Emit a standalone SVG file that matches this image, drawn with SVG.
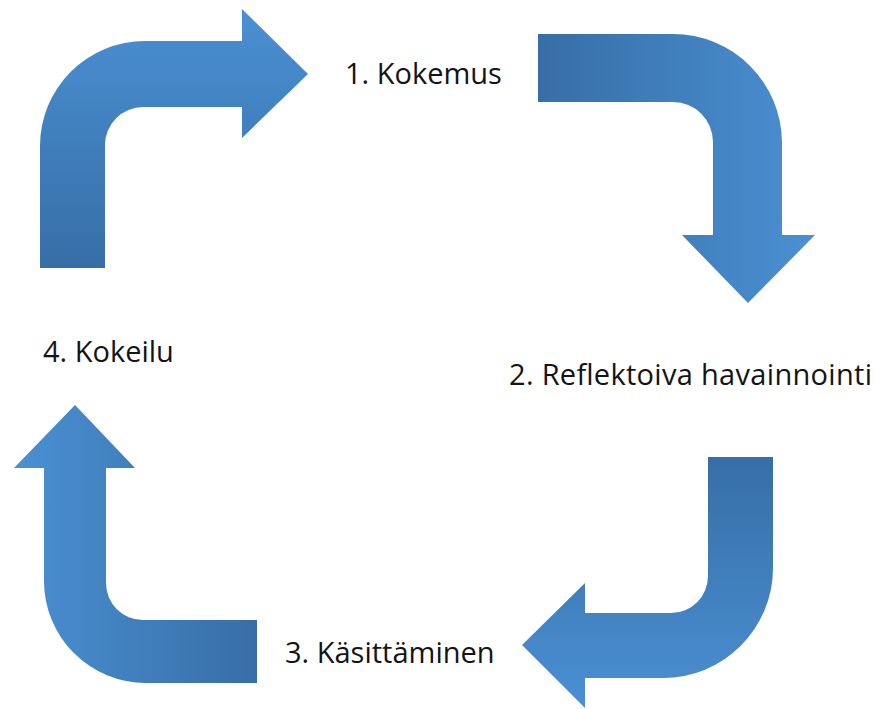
<svg xmlns="http://www.w3.org/2000/svg" width="879" height="709" viewBox="0 0 879 709">
<style>
.lbl{font-family:"Open Sans","Noto Sans","Liberation Sans",sans-serif;font-size:29px;fill:#141414}
</style>
<defs>
<linearGradient id="gDown" x1="0" y1="0" x2="0" y2="1"><stop offset="0" stop-color="#4a90d3"/><stop offset="1" stop-color="#376ea6"/></linearGradient>
<linearGradient id="gUp" x1="0" y1="0" x2="0" y2="1"><stop offset="0" stop-color="#376ea6"/><stop offset="1" stop-color="#4a90d3"/></linearGradient>
<linearGradient id="gRight" x1="0" y1="0" x2="1" y2="0"><stop offset="0" stop-color="#376ea6"/><stop offset="1" stop-color="#4a90d3"/></linearGradient>
<linearGradient id="gLeft" x1="0" y1="0" x2="1" y2="0"><stop offset="0" stop-color="#4a90d3"/><stop offset="1" stop-color="#376ea6"/></linearGradient>
</defs>
<rect width="879" height="709" fill="#ffffff"/>
<g id="connectors">
<path id="arrow-4-1" fill="url(#gDown)" d="M40 268 L40 146 A105 105 0 0 1 145 41 L242 41 L242 9 L308 74 L242 138 L242 107 L143 107 A38 38 0 0 0 105 145 L105 268 Z"/>
<path id="arrow-1-2" fill="url(#gRight)" d="M538 34 L673 34 A109 109 0 0 1 782 143 L782 235 L815 235 L748 303 L682 235 L713 235 L713 142 A40 40 0 0 0 673 102 L538 102 Z"/>
<path id="arrow-2-3" fill="url(#gUp)" d="M708 457 L773 457 L773 568 A110 110 0 0 1 663 678 L585 678 L585 708 L522 645 L585 583 L585 613 L671 613 A37 37 0 0 0 708 576 Z"/>
<path id="arrow-3-4" fill="url(#gLeft)" d="M257 620 L257 683 L146 683 A102 102 0 0 1 44 581 L44 468 L14 468 L75 405 L135 468 L106 468 L106 583 A37 37 0 0 0 143 620 Z"/>
</g>
<g id="node-1"><text class="lbl" x="345" y="84">1. Kokemus</text></g>
<g id="node-2"><text class="lbl" x="509" y="385" textLength="363" lengthAdjust="spacing">2. Reflektoiva havainnointi</text></g>
<g id="node-3"><text class="lbl" x="285" y="663">3. Käsittäminen</text></g>
<g id="node-4"><text class="lbl" x="43" y="362">4. Kokeilu</text></g>
</svg>
